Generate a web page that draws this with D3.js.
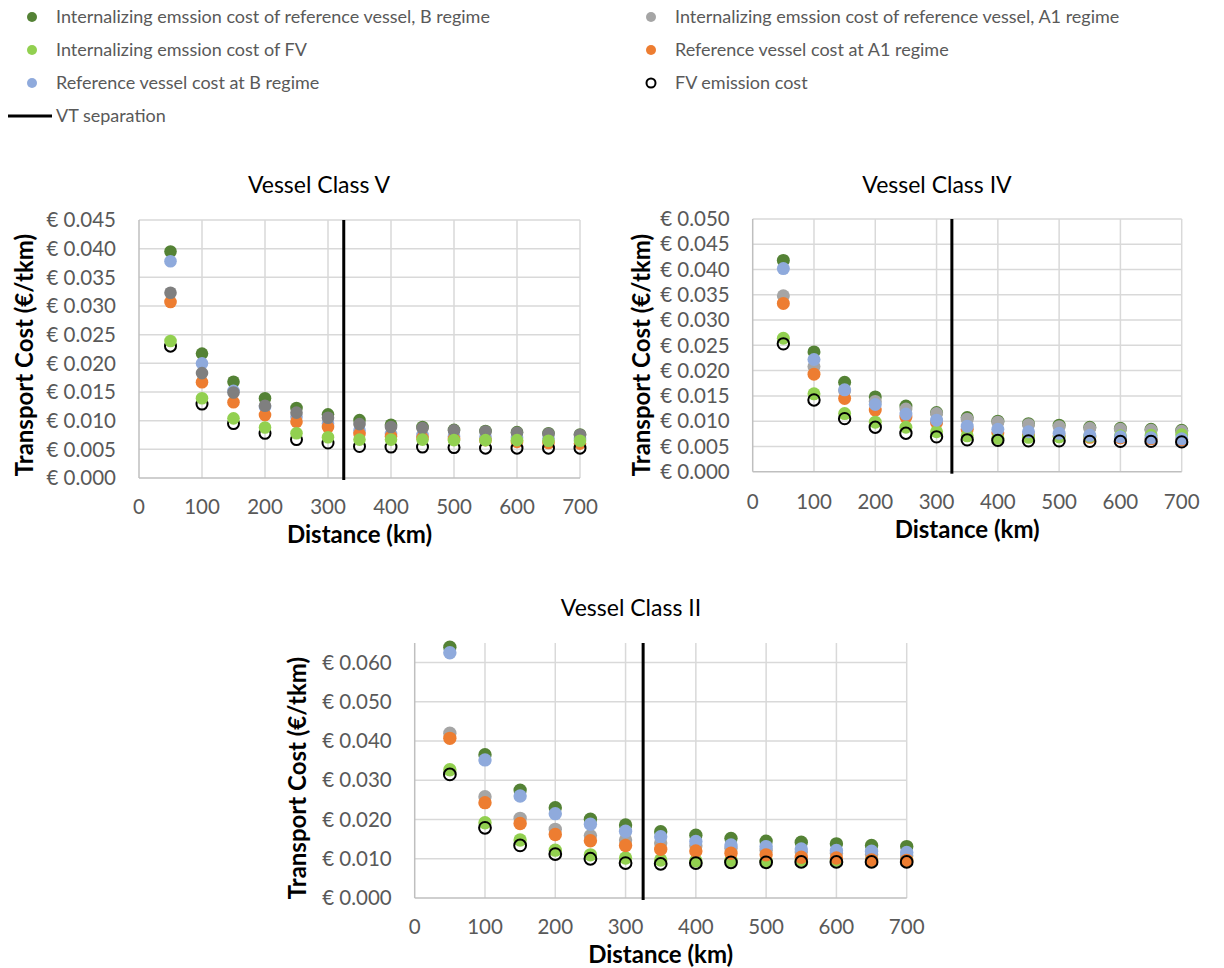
<!DOCTYPE html>
<html><head><meta charset="utf-8">
<script src="https://cdn.jsdelivr.net/npm/d3@7"></script>
<style>
body{margin:0;background:#fff;}
svg{display:block;font-family:Lato,"Open Sans",sans-serif;}
</style></head>
<body><svg id="chart" width="1224" height="968"></svg>
<script>
// ---------- data ----------
const distances = [50,100,150,200,250,300,350,400,450,500,550,600,650,700];
const xTicks = [0,100,200,300,400,500,600,700];
const vtSeparation = 325;

const seriesNames = [
  "Internalizing emssion cost of reference vessel,  B regime",
  "Internalizing emssion cost of reference vessel,  A1 regime",
  "Internalizing emssion cost of FV",
  "Reference vessel cost at A1 regime",
  "Reference vessel cost at B regime",
  "FV emission cost"
];
const seriesKeys = ["intB","intA1","intFV","refA1","refB","fvEm"];
const seriesColors = ["#548235","#a5a5a5","#92d050","#ed7d31","#8faadc","#000000"];

// Vessel Class V
const classV_intB  = [0.0395,0.0217,0.0168,0.0139,0.0122,0.0111,0.0101,0.0093,0.0089,0.0084,0.0082,0.0080,0.0078,0.0076];
const classV_intA1 = [0.0323,0.0183,0.0149,0.0126,0.0114,0.0105,0.0094,0.0089,0.0087,0.0083,0.0081,0.0079,0.0077,0.0075];
const classV_intFV = [0.0239,0.0139,0.0104,0.0088,0.0078,0.0071,0.0067,0.0067,0.0067,0.0066,0.0066,0.0066,0.0065,0.0065];
const classV_refA1 = [0.0307,0.0167,0.0132,0.0110,0.0098,0.0089,0.0077,0.0073,0.0070,0.0068,0.0066,0.0063,0.0061,0.0060];
const classV_refB  = [0.0378,0.0200,0.0152,0.0124,0.0107,0.0095,0.0083,0.0077,0.0075,0.0073,0.0072,0.0070,0.0069,0.0068];
const classV_fvEm  = [0.0230,0.0129,0.0095,0.0078,0.0067,0.0061,0.0055,0.0054,0.0054,0.0053,0.0052,0.0052,0.0052,0.0052];

// Vessel Class IV
const classIV_intB  = [0.0418,0.0237,0.0177,0.0148,0.0130,0.0117,0.0107,0.0100,0.0095,0.0092,0.0088,0.0086,0.0084,0.0082];
const classIV_intA1 = [0.0348,0.0208,0.0160,0.0139,0.0124,0.0115,0.0104,0.0098,0.0093,0.0089,0.0086,0.0084,0.0082,0.0080];
const classIV_intFV = [0.0264,0.0154,0.0115,0.0098,0.0088,0.0079,0.0071,0.0066,0.0068,0.0069,0.0070,0.0071,0.0072,0.0073];
const classIV_refA1 = [0.0333,0.0193,0.0145,0.0122,0.0108,0.0097,0.0084,0.0077,0.0073,0.0071,0.0068,0.0067,0.0065,0.0063];
const classIV_refB  = [0.0402,0.0222,0.0162,0.0133,0.0114,0.0102,0.0090,0.0084,0.0079,0.0076,0.0072,0.0069,0.0067,0.0065];
const classIV_fvEm  = [0.0253,0.0142,0.0105,0.0088,0.0076,0.0069,0.0063,0.0062,0.0061,0.0061,0.0060,0.0060,0.0060,0.0059];

// Vessel Class II
const classII_intB  = [0.0639,0.0365,0.0275,0.0230,0.0201,0.0186,0.0169,0.0160,0.0152,0.0145,0.0142,0.0138,0.0134,0.0131];
const classII_intA1 = [0.0420,0.0258,0.0203,0.0175,0.0159,0.0148,0.0140,0.0133,0.0127,0.0122,0.0117,0.0114,0.0111,0.0108];
const classII_intFV = [0.0327,0.0192,0.0148,0.0122,0.0110,0.0102,0.0097,0.0095,0.0096,0.0095,0.0097,0.0097,0.0097,0.0097];
const classII_refA1 = [0.0407,0.0243,0.0190,0.0162,0.0146,0.0134,0.0124,0.0120,0.0114,0.0110,0.0104,0.0102,0.0097,0.0096];
const classII_refB  = [0.0625,0.0352,0.0260,0.0215,0.0188,0.0170,0.0156,0.0144,0.0135,0.0131,0.0125,0.0121,0.0119,0.0116];
const classII_fvEm  = [0.0315,0.0179,0.0134,0.0112,0.0100,0.0089,0.0087,0.0089,0.0091,0.0091,0.0092,0.0092,0.0092,0.0092];

const yTicksV  = [0,0.005,0.010,0.015,0.020,0.025,0.030,0.035,0.040,0.045];
const yTicksIV = [0,0.005,0.010,0.015,0.020,0.025,0.030,0.035,0.040,0.045,0.050];
const yTicksII = [0,0.010,0.020,0.030,0.040,0.050,0.060];

// ---------- drawing ----------
const svg = d3.select("#chart");
const textGray = "#595959";

// legend
const legendItems = [
  {i:0, x:32, y:17}, {i:1, x:651, y:17},
  {i:2, x:32, y:50}, {i:3, x:651, y:50},
  {i:4, x:32, y:83}, {i:5, x:651, y:83}
];
const lg = svg.append("g");
legendItems.forEach(d => {
  const c = lg.append("circle").attr("cx", d.x).attr("cy", d.y).attr("r", 5);
  if (seriesKeys[d.i] === "fvEm") c.attr("fill","#fff").attr("stroke","#000").attr("stroke-width",2).attr("r",4.5);
  else c.attr("fill", seriesColors[d.i]);
  lg.append("text").attr("x", d.x + 24).attr("y", d.y).attr("dy","0.35em")
    .attr("font-size", 18).attr("fill", textGray).text(seriesNames[d.i]);
});
lg.append("line").attr("x1",8).attr("x2",52).attr("y1",116).attr("y2",116).attr("stroke","#000").attr("stroke-width",3);
lg.append("text").attr("x",56).attr("y",116).attr("dy","0.35em").attr("font-size",18).attr("fill",textGray).text("VT separation");

function drawChart(cfg){
  const x = d3.scaleLinear().domain([0,700]).range([cfg.x0, cfg.x1]);
  const y = d3.scaleLinear().domain([0, cfg.yMax]).range([cfg.y1, cfg.y0]);
  const g = svg.append("g");
  // title
  g.append("text").attr("x", cfg.titleX).attr("y", cfg.titleY).attr("dy","0.35em")
    .attr("text-anchor","middle").attr("font-size",23).attr("fill","#000").text(cfg.title);
  // grid
  g.append("g").selectAll("line").data(cfg.yTicks.filter(t=>t>0)).join("line")
    .attr("x1", cfg.x0).attr("x2", cfg.x1).attr("y1", d=>y(d)).attr("y2", d=>y(d))
    .attr("stroke","#d9d9d9").attr("stroke-width",1.5);
  g.append("g").selectAll("line").data(xTicks.filter(t=>t>0)).join("line")
    .attr("x1", d=>x(d)).attr("x2", d=>x(d)).attr("y1", cfg.y0).attr("y2", cfg.y1)
    .attr("stroke","#d9d9d9").attr("stroke-width",1.5);
  // axes lines
  g.append("line").attr("x1",cfg.x0).attr("x2",cfg.x1).attr("y1",cfg.y1).attr("y2",cfg.y1).attr("stroke","#bfbfbf").attr("stroke-width",1.5);
  g.append("line").attr("x1",cfg.x0).attr("x2",cfg.x0).attr("y1",cfg.y0).attr("y2",cfg.y1).attr("stroke","#bfbfbf").attr("stroke-width",1.5);
  // tick labels
  g.append("g").selectAll("text").data(cfg.yTicks).join("text")
    .attr("x", cfg.x0 - 23).attr("y", d=>y(d)).attr("dy","0.35em").attr("text-anchor","end")
    .attr("font-size",20.5).attr("fill",textGray).text(d => "€ " + d3.format(".3f")(d));
  g.append("g").selectAll("text").data(xTicks).join("text")
    .attr("x", d=>x(d)).attr("y", cfg.xLabelY).attr("dy","0.35em").attr("text-anchor","middle")
    .attr("font-size",20.5).attr("fill",textGray).text(d=>d);
  // axis titles
  g.append("text").attr("x",(cfg.x0+cfg.x1)/2).attr("y",cfg.xTitleY).attr("dy","0.35em")
    .attr("text-anchor","middle").attr("font-size",24).attr("font-weight","bold").attr("fill","#000").text("Distance (km)");
  g.append("text").attr("transform",`translate(${cfg.yTitleX},${cfg.yTitleY}) rotate(-90)`).attr("dy","0.35em")
    .attr("text-anchor","middle").attr("font-size",24).attr("font-weight","bold").attr("fill","#000").text("Transport Cost (€/tkm)");
  // points
  cfg.order.forEach(k => {
    const idx = seriesKeys.indexOf(k);
    const vals = cfg.data[k];
    const pts = distances.map((d,i)=>({d, v: vals[i]}));
    const sel = g.append("g").selectAll("circle").data(pts).join("circle")
      .attr("cx", p=>x(p.d)).attr("cy", p=>y(p.v));
    if (k === "fvEm") sel.attr("r", cfg.r - 0.8).attr("fill","none").attr("stroke","#000").attr("stroke-width",2);
    else sel.attr("r", cfg.r).attr("fill", (k==="intA1" && cfg.grayColor) ? cfg.grayColor : seriesColors[idx]);
  });
  // VT separation
  g.append("line").attr("x1", x(vtSeparation)).attr("x2", x(vtSeparation))
    .attr("y1", cfg.y0).attr("y2", cfg.y1 + 2).attr("stroke","#000").attr("stroke-width",3);
}

drawChart({
  title:"Vessel Class V", titleX:319, titleY:185,
  x0:139, x1:580, y0:220, y1:478, yMax:0.045, yTicks:yTicksV,
  xLabelY:507, xTitleY:535, yTitleX:25, yTitleY:355, r:6.3, grayColor:"#7f7f7f",
  data:{intB:classV_intB,intA1:classV_intA1,intFV:classV_intFV,refA1:classV_refA1,refB:classV_refB,fvEm:classV_fvEm},
  order:["intB","refB","refA1","fvEm","intA1","intFV"]
});
drawChart({
  title:"Vessel Class IV", titleX:937, titleY:185,
  x0:752.7, x1:1181.7, y0:219, y1:471.7, yMax:0.050, yTicks:yTicksIV,
  xLabelY:502, xTitleY:530, yTitleX:642, yTitleY:355, r:6.5,
  data:{intB:classIV_intB,intA1:classIV_intA1,intFV:classIV_intFV,refA1:classIV_refA1,refB:classIV_refB,fvEm:classIV_fvEm},
  order:["intB","intA1","refA1","intFV","refB","fvEm"]
});
drawChart({
  title:"Vessel Class II", titleX:631, titleY:608,
  x0:414.7, x1:906.7, y0:643, y1:898, yMax:0.065, yTicks:yTicksII,
  xLabelY:927, xTitleY:955, yTitleX:298, yTitleY:778, r:6.7,
  data:{intB:classII_intB,intA1:classII_intA1,intFV:classII_intFV,refA1:classII_refA1,refB:classII_refB,fvEm:classII_fvEm},
  order:["intB","intA1","intFV","refB","refA1","fvEm"]
});
</script></body></html>
